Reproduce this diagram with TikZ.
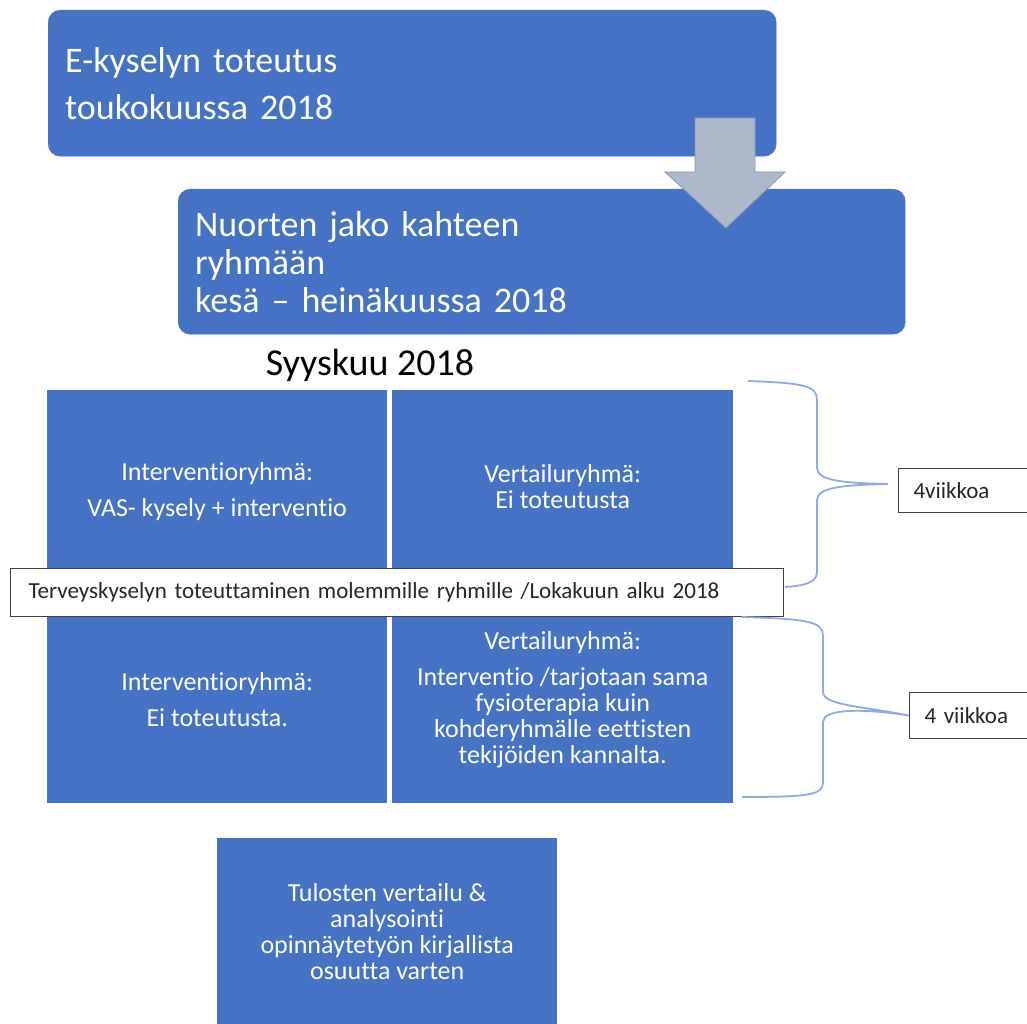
\documentclass[tikz,border=0pt]{standalone}
\usepackage{fontspec}
\setmainfont{Carlito}[Ligatures=NoCommon]
\usetikzlibrary{positioning}

\definecolor{boxblue}{HTML}{4472C4}
\definecolor{arrowgray}{HTML}{ADB9CA}
\definecolor{arrowline}{HTML}{8497B0}
\definecolor{braceblue}{HTML}{8FAADC}

\tikzset{
  phase/.style={fill=boxblue, draw=boxblue, rounded corners=12pt, text=white,
    anchor=north west, inner sep=0pt, align=left},
  cell/.style={fill=boxblue, text=white, anchor=north west, inner sep=0pt,
    align=center, font=\fontsize{26}{26}\selectfont},
  note/.style={fill=white, draw=black!75, line width=1pt, anchor=north west,
    inner sep=0pt, align=left, text=black!85},
  brace/.style={draw=braceblue, line width=1.8pt}
}

\begin{document}
\begin{tikzpicture}[x=1pt, y=-1pt]
  \useasboundingbox (0,0) rectangle (1027,1024);
  % top phases
  \node[phase, minimum width=728pt, minimum height=146pt, text width=694pt,
    font=\fontsize{36}{47}\selectfont] (kysely) at (48,10)
    {E-kyselyn toteutus\\toukokuussa 2018};
  \node[phase, minimum width=727pt, minimum height=145pt, text width=693pt,
    font=\fontsize{36}{38}\selectfont] (jako) at (178,189)
    {Nuorten jako kahteen\\ryhmään\\kesä – heinäkuussa 2018};
  \draw[fill=arrowgray, draw=arrowline, line width=0.8pt]
    (695,118) -- (755,118) -- (755,172) -- (785,172) -- (726,228)
    -- (665,172) -- (695,172) -- cycle;
  \node[font=\fontsize{38}{40}\selectfont] (syys) at (370,365) {Syyskuu 2018};
  % groups
  \node[cell, minimum width=340pt, minimum height=202pt] (int1) at (47,390)
    {Interventioryhmä:\\[10pt]VAS- kysely + interventio};
  \node[cell, minimum width=341pt, minimum height=192pt] (ver1) at (392,390)
    {Vertailuryhmä:\\Ei toteutusta};
  \node[cell, minimum width=340pt, minimum height=207pt] (int2) at (47,596)
    {Interventioryhmä:\\[10pt]Ei toteutusta.};
  \node[cell, minimum width=341pt, minimum height=207pt] (ver2) at (392,596)
    {Vertailuryhmä:\\[10pt]Interventio /tarjotaan sama\\fysioterapia kuin\\kohderyhmälle eettisten\\tekijöiden kannalta.};
  \node[note, minimum width=773pt, minimum height=48pt, text width=737pt,
    inner xsep=18pt, font=\fontsize{23}{24}\selectfont] (terveys) at (10,568)
    {Terveyskyselyn toteuttaminen molemmille ryhmille /Lokakuun alku 2018};
  \node[cell, minimum width=340pt, minimum height=186pt] (tulos) at (217,838)
    {Tulosten vertailu \&\\analysointi\\opinnäytetyön kirjallista\\osuutta varten};
  % weeks
  \node[note, minimum width=150pt, minimum height=44pt, text width=135pt,
    inner xsep=15pt, font=\fontsize{23}{24}\selectfont] (viikot1) at (898,468) {4viikkoa};
  \node[note, minimum width=150pt, minimum height=46pt, text width=135pt,
    inner xsep=15pt, font=\fontsize{23}{24}\selectfont] (viikot2) at (909,692) {4 viikkoa};
  \coordinate (b1top) at (748,381);
  \coordinate (b1bot) at (785,587);
  \coordinate (b1tip) at (888,484);
  \coordinate (b2top) at (742,617);
  \coordinate (b2bot) at (742,797);
  \draw[brace] (b1top) .. controls (805,383) and (817,386) .. (817,400)
    -- (817,468) .. controls (817,482) and (850,483) .. (b1tip)
    .. controls (850,485) and (817,486) .. (817,500)
    -- (817,572) .. controls (817,584) and (800,586) .. (b1bot);
  \draw[brace] (b2top) .. controls (810,619) and (823,622) .. (823,636)
    -- (823,692) .. controls (823,705) and (860,706) .. (viikot2.west)
    .. controls (860,708) and (823,709) .. (823,722)
    -- (823,782) .. controls (823,795) and (810,797) .. (b2bot);
\end{tikzpicture}
\end{document}
